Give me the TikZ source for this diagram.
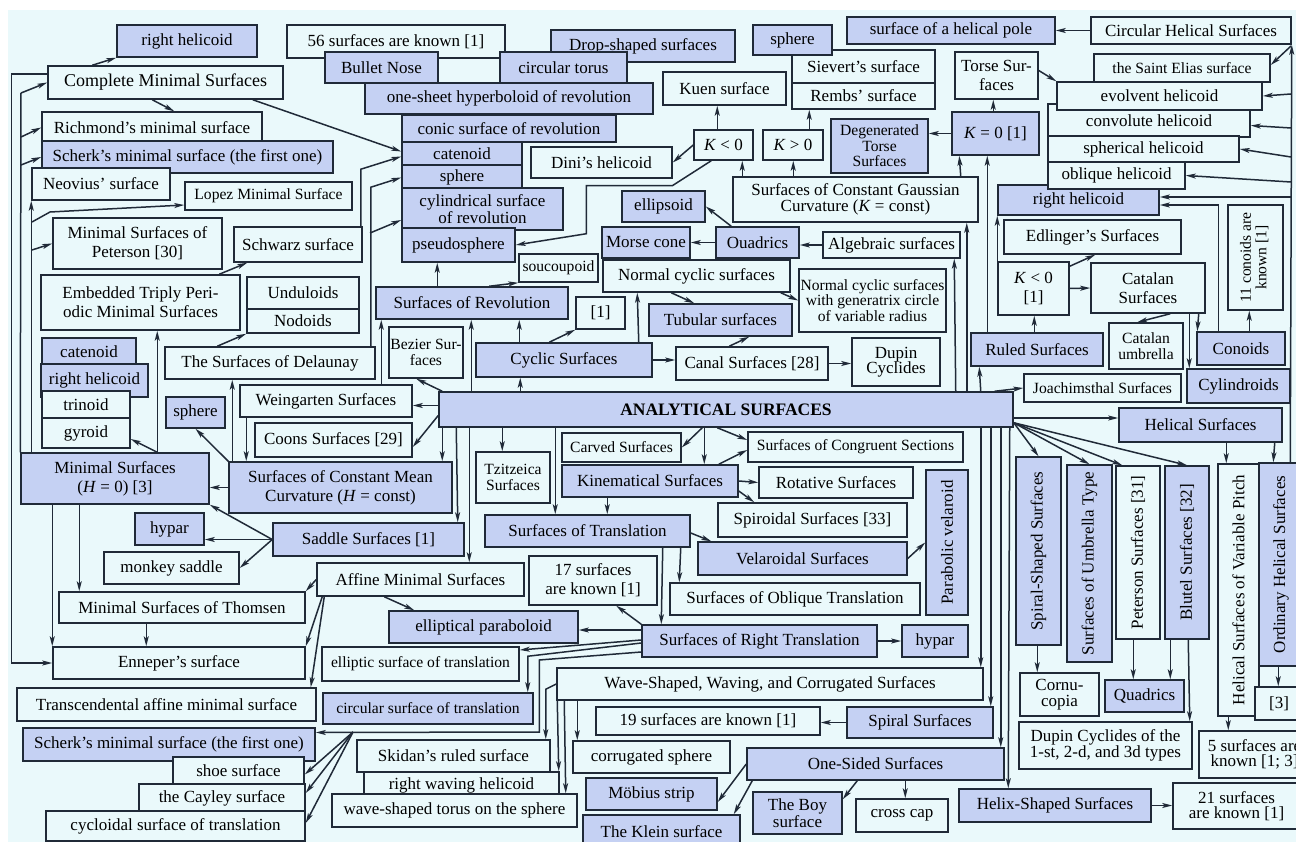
\documentclass[tikz,border=0pt]{standalone}
\usepackage{fontspec}
\setmainfont{Liberation Serif}
\usepackage{graphicx}
\usetikzlibrary{arrows.meta}

\definecolor{bgcol}{RGB}{234,249,251}
\definecolor{boxblue}{RGB}{197,209,243}
\definecolor{edgecol}{RGB}{32,42,56}

%% box from its corners (x1,y1)--(x2,y2), in pixels
\newcommand\bx[7]{\node[#1,minimum width={#5-#3},minimum height={#6-#4}] (#2) at ({(#3+#5)/2},{(#4+#6)/2}) {#7};}

\begin{document}
\begin{tikzpicture}%
        [x=1pt, y=-1pt,
        box/.style={draw=edgecol, line width=1.5pt, inner sep=1pt, align=center, font=\fontsize{17}{19}\selectfont},
        wb/.style={box, fill=bgcol},
        bb/.style={box, fill=boxblue},
        sm/.style={font=\fontsize{15.6}{15.4}\selectfont},
        tight/.style={font=\fontsize{17}{15.5}\selectfont},
        bold/.style={font=\fontsize{17.5}{19}\selectfont\bfseries},
        ln/.style={draw=edgecol, line width=1.5pt},
        arr/.style={ln, -{Stealth[length=10pt,width=5pt,inset=2.5pt]}}]
    %
    \useasboundingbox (0,0) rectangle (1296,842);
    \fill[white] (0,0) rectangle (1296,842);
    \fill[bgcol] (8,10) rectangle (1296,842);
    %
    %% Drawing the minimal surfaces (left)
    \bx{bb}{rhA}{117}{25}{257}{57}{right helicoid}
    \bx{wb}{cms}{48}{66}{283}{99}{\fontsize{18}{19}\selectfont Complete Minimal Surfaces}
    \bx{wb}{rich}{42}{112}{262}{143}{Richmond's minimal surface}
    \bx{bb}{scherkA}{42}{141}{333}{173}{Scherk's minimal surface (the first one)}
    \bx{wb}{neov}{32}{168}{170}{200}{Neovius' surface}
    \bx{wb,sm}{lopez}{185}{182}{352}{210}{Lopez Minimal Surface}
    \bx{wb}{peter}{53}{218}{222}{269}{Minimal Surfaces of\\Peterson [30]}
    \bx{wb}{schwarz}{234}{227}{362}{262}{Schwarz surface}
    \bx{wb}{embed}{41}{275}{240}{330}{Embedded Triply Peri-\\odic Minimal Surfaces}
    \bx{wb}{undul}{247}{277}{359}{309}{Unduloids}
    \bx{wb}{nodo}{247}{309}{359}{333}{Nodoids}
    \bx{wb}{delau}{165}{347}{375}{379}{The Surfaces of Delaunay}
    \bx{bb}{catA}{42}{338}{136}{365}{catenoid}
    \bx{bb}{rhB}{41}{364}{148}{397}{right helicoid}
    \bx{wb}{trin}{42}{391}{130}{418}{trinoid}
    \bx{wb}{gyr}{42}{418}{130}{448}{gyroid}
    \bx{bb}{sphA}{166}{397}{225}{428}{sphere}
    \bx{wb}{weing}{240}{385}{412}{417}{Weingarten Surfaces}
    \bx{wb}{coons}{255}{423}{412}{457}{Coons Surfaces [29]}
    \bx{bb}{minS}{21}{453}{209}{504}{Minimal Surfaces\\(\textit{H} = 0) [3]}
    \bx{bb}{scmc}{229}{462}{452}{513}{Surfaces of Constant Mean\\Curvature (\textit{H} = const)}
    \bx{bb}{hyA}{135}{513}{204}{545}{hypar}
    \bx{bb}{saddle}{273}{523}{464}{556}{Saddle Surfaces [1]}
    \bx{wb}{monkey}{104}{552}{239}{584}{monkey saddle}
    \bx{wb}{thom}{59}{592}{305}{623}{Minimal Surfaces of Thomsen}
    \bx{wb}{enne}{53}{647}{305}{679}{Enneper's surface}
    \bx{wb}{trans}{17}{688}{316}{721}{Transcendental affine minimal surface}
    \bx{bb}{scherkB}{23}{728}{315}{761}{Scherk's minimal surface (the first one)}
    \bx{wb}{shoe}{173}{757}{304}{784}{shoe surface}
    \bx{wb}{cayley}{139}{784}{305}{812}{the Cayley surface}
    \bx{wb}{cycl}{46}{811}{305}{841}{cycloidal surface of translation}
    %
    %% Drawing the surfaces of revolution and cyclic surfaces
    \bx{wb}{s56}{287}{25}{505}{58}{56 surfaces are known [1]}
    \bx{bb}{bullet}{325}{52}{438}{83}{Bullet Nose}
    \bx{bb}{drop}{551}{30}{735}{62}{Drop-shaped surfaces}
    \bx{bb}{torus}{500}{52}{627}{83}{circular torus}
    \bx{bb}{hyper}{365}{83}{653}{114}{one-sheet hyperboloid of revolution}
    \bx{bb}{conic}{402}{115}{616}{142}{conic surface of revolution}
    \bx{bb}{catB}{402}{142}{522}{165}{catenoid}
    \bx{bb}{sphB}{402}{165}{522}{190}{sphere}
    \bx{bb,tight}{cyl}{402}{188}{563}{230}{cylindrical surface\\of revolution}
    \bx{bb}{pseudo}{402}{228}{515}{262}{pseudosphere}
    \bx{wb}{dini}{531}{147}{672}{178}{Dini's helicoid}
    \bx{wb,sm}{souc}{519}{254}{598}{282}{soucoupoid}
    \bx{bb}{rev}{376}{287}{568}{319}{Surfaces of Revolution}
    \bx{wb,sm}{bez}{389}{327}{463}{378}{Bezier Sur-\\faces}
    \bx{wb}{one}{576}{297}{625}{329}{[1]}
    \bx{bb}{cyc}{476}{343}{652}{377}{Cyclic Surfaces}
    \bx{wb}{ncyc}{603}{260}{790}{292}{Normal cyclic surfaces}
    \bx{wb,sm}{ncycg}{799}{269}{946}{332}{Normal cyclic surfaces\\with generatrix circle\\of variable radius}
    \bx{bb}{tub}{649}{304}{792}{336}{Tubular surfaces}
    \bx{wb}{canal}{676}{347}{828}{380}{Canal Surfaces [28]}
    \bx{wb,tight}{dupin}{852}{338}{940}{386}{Dupin\\Cyclides}
    %
    %% Drawing the surfaces of constant Gaussian curvature
    \bx{wb}{siev}{792}{50}{935}{83}{Sievert's surface}
    \bx{wb}{rembs}{792}{83}{935}{109}{Rembs' surface}
    \bx{bb}{sphC}{753}{25}{832}{55}{sphere}
    \bx{wb}{kuen}{663}{72}{786}{105}{Kuen surface}
    \bx{wb}{kneg}{694}{130}{753}{160}{\textit{K} < 0}
    \bx{wb}{kpos}{763}{130}{823}{160}{\textit{K} > 0}
    \bx{bb,sm}{degen}{831}{119}{928}{173}{Degenerated\\Torse\\Surfaces}
    \bx{bb}{kzero}{952}{112}{1039}{155}{\textit{K} = 0 [1]}
    \bx{wb,tight}{scgc}{733}{177}{978}{222}{Surfaces of Constant Gaussian\\Curvature (\textit{K} = const)}
    \bx{bb}{ellip}{622}{191}{705}{222}{ellipsoid}
    \bx{bb}{quad}{716}{227}{799}{258}{Ouadrics}
    \bx{bb}{morse}{602}{227}{690}{258}{Morse cone}
    \bx{wb}{alg}{823}{232}{960}{258}{Algebraic surfaces}
    %
    %% Drawing the helicoids and ruled surfaces (upper right)
    \bx{bb}{pole}{847}{17}{1055}{44}{surface of a helical pole}
    \bx{wb}{circh}{1091}{17}{1291}{44}{Circular Helical Surfaces}
    \bx{wb}{torse}{955}{52}{1038}{99}{Torse Sur-\\faces}
    \bx{wb,sm}{elias}{1094}{54}{1270}{82}{the Saint Elias surface}
    \bx{bb}{rhC}{998}{185}{1159}{215}{right helicoid}
    \bx{wb}{conv}{1048}{104}{1250}{137}{convolute helicoid}
    \bx{wb}{evol}{1057}{82}{1262}{110}{evolvent helicoid}
    \bx{wb}{spher}{1048}{136}{1239}{162}{spherical helicoid}
    \bx{wb}{obl}{1048}{162}{1185}{189}{oblique helicoid}
    \bx{wb}{edl}{1004}{220}{1181}{254}{Edlinger's Surfaces}
    \bx{wb}{kneg1}{998}{262}{1069}{315}{\textit{K} < 0\\{[1]}}
    \bx{wb}{catal}{1091}{263}{1205}{313}{Catalan\\Surfaces}
    \bx{wb,sm}{con11}{1228}{205}{1283}{310}{\rotatebox{90}{\begin{tabular}{@{}c@{}}11 conoids are\\known [1]\end{tabular}}}
    \bx{bb}{ruled}{971}{333}{1103}{366}{Ruled Surfaces}
    \bx{wb,sm}{catum}{1109}{323}{1183}{369}{Catalan\\umbrella}
    \bx{bb}{conoids}{1197}{332}{1285}{365}{Conoids}
    \bx{bb}{cylin}{1187}{369}{1290}{403}{Cylindroids}
    \bx{wb,sm}{joach}{1024}{374}{1181}{402}{Joachimsthal Surfaces}
    \bx{bb}{helic}{1119}{408}{1282}{442}{Helical Surfaces}
    %
    %% Drawing the root and the lower middle
    \bx{bb,bold}{anal}{439}{392}{1013}{427}{ANALYTICAL SURFACES}
    \bx{wb,sm}{tzit}{476}{452}{550}{503}{Tzitzeica\\Surfaces}
    \bx{wb,sm}{carved}{562}{433}{681}{462}{Carved Surfaces}
    \bx{bb}{kine}{562}{465}{738}{497}{Kinematical Surfaces}
    \bx{wb,sm}{cong}{748}{432}{963}{462}{Surfaces of Congruent Sections}
    \bx{wb}{rot}{759}{467}{913}{498}{Rotative Surfaces}
    \bx{wb}{spir}{718}{503}{907}{537}{Spiroidal Surfaces [33]}
    \bx{bb}{transl}{485}{515}{690}{547}{Surfaces of Translation}
    \bx{bb}{vel}{698}{542}{907}{575}{Velaroidal Surfaces}
    \bx{bb}{parab}{926}{470}{968}{615}{\rotatebox{90}{Parabolic velaroid}}
    \bx{wb}{affine}{317}{563}{524}{596}{Affine Minimal Surfaces}
    \bx{wb}{s17}{529}{556}{657}{605}{17 surfaces\\are known [1]}
    \bx{wb}{obliq}{670}{583}{920}{615}{Surfaces of Oblique Translation}
    \bx{bb}{ellpar}{389}{611}{578}{643}{elliptical paraboloid}
    \bx{bb}{right}{642}{625}{877}{657}{Surfaces of Right Translation}
    \bx{bb}{hyB}{902}{625}{968}{657}{hypar}
    \bx{wb,sm}{ellst}{322}{647}{519}{681}{elliptic surface of translation}
    \bx{bb,sm}{circst}{323}{693}{533}{724}{circular surface of translation}
    \bx{wb}{wave}{557}{668}{983}{700}{Wave-Shaped, Waving, and Corrugated Surfaces}
    \bx{wb}{s19}{596}{707}{820}{735}{19 surfaces are known [1]}
    \bx{bb}{spiral}{847}{707}{993}{738}{Spiral Surfaces}
    \bx{wb}{skid}{357}{740}{550}{772}{Skidan's ruled surface}
    \bx{wb}{rwh}{364}{772}{559}{799}{right waving helicoid}
    \bx{wb}{wst}{332}{794}{577}{827}{wave-shaped torus on the sphere}
    \bx{wb}{corr}{573}{741}{730}{773}{corrugated sphere}
    \bx{bb}{mob}{586}{778}{717}{810}{Möbius strip}
    \bx{bb}{klein}{583}{815}{740}{848}{The Klein surface}
    \bx{bb}{onesided}{747}{748}{1004}{780}{One-Sided Surfaces}
    \bx{bb,tight}{boy}{753}{792}{842}{834}{The Boy\\surface}
    \bx{wb}{crossc}{856}{799}{948}{832}{cross cap}
    \bx{bb}{helix}{959}{789}{1151}{822}{Helix-Shaped Surfaces}
    \bx{wb,tight}{s21}{1173}{783}{1300}{829}{21 surfaces\\are known [1]}
    %
    %% Drawing the vertical boxes (lower right)
    \bx{bb}{spsh}{1016}{457}{1061}{645}{\rotatebox{90}{Spiral-Shaped Surfaces}}
    \bx{bb}{umb}{1067}{465}{1112}{662}{\rotatebox{90}{Surfaces of Umbrella Type}}
    \bx{wb}{pet31}{1116}{466}{1160}{639}{\rotatebox{90}{Peterson Surfaces [31]}}
    \bx{bb}{blut}{1165}{466}{1209}{639}{\rotatebox{90}{Blutel Surfaces [32]}}
    \bx{wb}{hvp}{1218}{464}{1259}{716}{\rotatebox{90}{Helical Surfaces of Variable Pitch}}
    \bx{bb}{ordh}{1259}{463}{1303}{666}{\rotatebox{90}{Ordinary Helical Surfaces}}
    \bx{wb}{three}{1255}{687}{1303}{720}{[3]}
    \bx{wb,tight}{cornu}{1020}{673}{1099}{716}{Cornu-\\copia}
    \bx{bb}{quadB}{1105}{680}{1184}{712}{Quadrics}
    \bx{wb,tight}{dupinB}{1019}{722}{1192}{769}{Dupin Cyclides of the\\1-st, 2-d, and 3d types}
    \bx{wb,tight}{s5}{1199}{731}{1310}{778}{5 surfaces are\\known [1; 3]}
    %
    %% Junctions on the long lines
    \coordinate (t21a) at (21,93);
    \coordinate (t21b) at (21,137);
    \coordinate (t21c) at (21,165);
    \coordinate (t32a) at (32,222);
    \coordinate (t32b) at (32,250);
    \coordinate (t370) at (370,233);
    \coordinate (sc) at (353,732);
    \coordinate (h1) at (1291,46);
    \coordinate (h2) at (1291,94);
    \coordinate (h3) at (1291,128);
    \coordinate (h4) at (1291,157);
    \coordinate (h5) at (1291,182);
    \coordinate (h6) at (1291,197);
    %
    %% Connectors: minimal surfaces
    \draw[arr] ([xshift=45pt]cms.north west) -- (rhA.south west);
    \draw[arr] ([xshift=105pt]cms.south west) -- ([xshift=133pt]rich.north west);
    \draw[arr] ([xshift=-31pt]cms.south east) -- ([yshift=2pt]catB.west);
    \draw[arr] ([yshift=-9pt]cms.north west) -- ++(-36,0) |- (enne.west);
    \draw[ln] (minS.north west) -- (t21a);
    \draw[arr] (t21a) -- (cms.west);
    \draw[arr] (t21b) -- (rich.west);
    \draw[arr] (t21c) -- (scherkA.west);
    \draw[arr] ([xshift=11pt]minS.north west) -- (neov.south west);
    \draw[arr] (t32a) -- ++(18,-10) -- ([yshift=-9pt]lopez.west);
    \draw[arr] (t32b) -- (peter.west);
    \draw[arr] ([xshift=137pt]minS.north west) -- ([yshift=-6pt]gyr.east);
    \draw[arr] ([xshift=137pt]minS.north west) -- ([xshift=117pt]embed.south west);
    \draw[arr] ([xshift=59pt]minS.south west) -- ([xshift=21pt]thom.north west);
    \draw[arr] ([xshift=32pt]minS.south west) -- (enne.north west);
    \draw[arr] ([xshift=88pt]thom.south west) -- ([xshift=94pt]enne.north west);
    \draw[arr] ([xshift=179pt]embed.north west) -- ([xshift=14pt]schwarz.south west);
    \draw[arr] (scmc.north west) -- (sphA.south);
    \draw[arr] ([xshift=4pt]scmc.north west) -- ([xshift=68pt]delau.south west);
    \draw[arr] ([xshift=7pt]weing.south west) -- ([xshift=18pt]scmc.north west);
    \draw[arr] (scmc.west) -- (scmc.west -| minS.east);
    \draw[arr] (saddle.west) -- (saddle.west -| hyA.east);
    \draw[arr] (saddle.west) -- (minS.south east);
    \draw[arr] (saddle.west) -- (monkey.east);
    \draw[arr] ([xshift=53pt]delau.north west) -- (nodo.south west);
    \draw[arr] ([xshift=-2pt]schwarz.north east) -- ++(0,-57) -- ([yshift=-3pt]catB.west);
    \draw[arr] ([xshift=-5pt]delau.north east) -- ++(0,-159) -- (sphB.west);
    \draw[arr] (t370) -- ([yshift=-11pt]cyl.west);
    \draw[arr] ([xshift=142pt]weing.north west) -- ([xshift=6pt]rev.south west);
    %
    %% Connectors: around the root
    \draw[arr] ([yshift=4pt]anal.west) -- ([yshift=4pt]anal.west -| weing.east);
    \draw[arr] ([yshift=-6pt]anal.west) -- ([yshift=-7pt]coons.east);
    \draw[arr] ([xshift=4pt]anal.north west) -- ([xshift=28pt]bez.south west);
    \draw[arr] ([xshift=33pt]anal.north west) -- ([xshift=96pt]rev.south west);
    \draw[arr] ([xshift=82pt]anal.north west) -- ([xshift=45pt]cyc.south west);
    \draw[arr] ([xshift=44pt]cyc.north west) -- ([xshift=144pt]rev.south west);
    \draw[arr] ([xshift=74pt]cyc.north west) -- (one.south west);
    \draw[arr] ([xshift=-14pt]cyc.north east) -- ([xshift=35pt]ncyc.south west);
    \draw[arr] ([xshift=62pt]rev.north west) -- ([xshift=36pt]pseudo.south west);
    \draw[arr] ([xshift=114pt]rev.north west) -- (souc.south west);
    \draw[arr] ([xshift=18pt]kneg.south west) -- ++(-39,25) -- ++(-86,0) -- ++(0,48) -- (pseudo.east);
    \draw[arr] (kneg.west) -- (dini.east);
    \draw[arr] ([xshift=24pt]kneg.north west) -- ([xshift=55pt]kuen.south west);
    \draw[arr] ([xshift=47pt]kpos.north west) -- ([xshift=18pt]rembs.south west);
    \draw[arr] ([xshift=10pt]scgc.north west) -- ([xshift=49pt]kneg.south west);
    \draw[arr] ([xshift=61pt]scgc.north west) -- ([xshift=31pt]kpos.south west);
    \draw[arr] ([xshift=-18pt]scgc.north east) -- ([xshift=8pt]kzero.south west);
    \draw[arr] (kzero.west) -- (kzero.west -| degen.east);
    \draw[arr] ([xshift=42pt]kzero.north west) -- ([xshift=39pt]torse.south west);
    \draw[arr] (alg.west) -- (alg.west -| quad.east);
    \draw[arr] (quad.west) -- (quad.west -| morse.east);
    \draw[arr] ([xshift=16pt]quad.north west) -- (ellip.east);
    \draw[arr] ([xshift=-58pt]anal.north east) -- ([xshift=132pt]alg.south west);
    \draw[arr] ([xshift=-47pt]anal.north east) -- ([xshift=-12pt]scgc.south east);
    \draw[arr] ([xshift=69pt]ncyc.south west) -- ([xshift=46pt]tub.north west);
    \draw[arr] ([xshift=-10pt]ncyc.south east) -- (ncycg.west);
    \draw[arr] (cyc.east) -- (cyc.east -| canal.west);
    \draw[arr] ([xshift=54pt]canal.north west) -- ([xshift=101pt]tub.south west);
    \draw[arr] (canal.east) -- (canal.east -| dupin.west);
    %
    %% Connectors: helicoids and ruled surfaces
    \draw[arr] (circh.west) -- (pole.east);
    \draw[arr] ([xshift=32pt]ordh.north west) -- (circh.south east);
    \draw[arr] (h1) -- ([yshift=3pt]elias.east);
    \draw[arr] (h2) -- (evol.east);
    \draw[arr] (h3) -- ([yshift=-5pt]conv.east);
    \draw[arr] (h4) -- (spher.east);
    \draw[arr] (h5) -- (obl.east);
    \draw[arr] (h6) -- ([yshift=3pt]rhC.east);
    \draw[arr] ([xshift=22pt]conoids.north west) |- ([yshift=-5pt]rhC.east);
    \draw[arr] ([yshift=5pt]torse.east) -- (evol.north west);
    \draw[arr] ([xshift=17pt]ruled.north west) -- ([xshift=36pt]kzero.south west);
    \draw[arr] (kneg1.north west) -- (rhC.south west);
    \draw[arr] ([xshift=64pt]ruled.north west) -- ([xshift=37pt]kneg1.south west);
    \draw[arr] ([yshift=-5pt]kneg1.north east) -- ([xshift=92pt]edl.south west);
    \draw[arr] (kneg1.east) -- (catal.west);
    \draw[arr] ([xshift=80pt]catal.south west) -- ([xshift=29pt]catum.north west);
    \draw[arr] ([xshift=99pt]catal.south west) -- ([xshift=3pt]cylin.north west);
    \draw[arr] ([xshift=-7pt]catal.south east) -- ([xshift=1pt]conoids.north west);
    \draw[arr] ([xshift=53pt]conoids.north west) -- ([xshift=22pt]con11.south west);
    \draw[arr] ([xshift=-33pt]anal.north east) -- ([xshift=9pt]ruled.south west);
    \draw[arr] ([xshift=-19pt]anal.north east) -- (joach.west);
    \draw[arr] ([yshift=-8.5pt]anal.east) -- ([yshift=-8.5pt]anal.east -| helic.west);
    %
    %% Connectors: lower right
    \draw[arr] ([yshift=5pt]anal.south east) -- (spsh.north);
    \draw[arr] ([yshift=5pt]anal.south east) -- (umb.north);
    \draw[arr] ([yshift=5pt]anal.south east) -- ([xshift=7pt]pet31.north west);
    \draw[arr] ([yshift=5pt]anal.south east) -- (blut.north);
    \draw[arr] ([xshift=-33pt]anal.south east) -- ([xshift=-3pt]wave.north east);
    \draw[arr] ([xshift=-23pt]anal.south east) -- ([xshift=-3pt]spiral.north east);
    \draw[arr] ([xshift=-13pt]anal.south east) -- ([xshift=-4pt]onesided.north east);
    \draw[arr] ([xshift=-4pt]anal.south east) -- ([xshift=50pt]helix.north west);
    \draw[arr] ([xshift=108pt]helic.south west) -- ([xshift=9pt]hvp.north west);
    \draw[arr] ([xshift=-8pt]helic.south east) -- ([xshift=15pt]ordh.north west);
    \draw[arr] ([xshift=22pt]spsh.south west) -- ([xshift=18pt]cornu.north west);
    \draw[arr] ([xshift=18pt]pet31.south west) -- ([xshift=29pt]quadB.north west);
    \draw[arr] ([xshift=6pt]blut.south west) -- ([xshift=66pt]quadB.north west);
    \draw[arr] ([xshift=24pt]blut.south west) -- ([xshift=-3pt]dupinB.north east);
    \draw[arr] ([xshift=11pt]hvp.south west) -- ([xshift=30pt]s5.north west);
    \draw[arr] ([xshift=20pt]ordh.south west) -- ([xshift=24pt]three.north west);
    \draw[arr] (helix.east) -- (helix.east -| s21.west);
    %
    %% Connectors: lower middle
    \draw[arr] ([xshift=64pt]anal.south west) -- ([xshift=27pt]tzit.north west);
    \draw[arr] ([xshift=117pt]anal.south west) -- ([xshift=71pt]transl.north west);
    \draw[arr] ([xshift=264pt]anal.south west) -- (carved.east);
    \draw[arr] ([xshift=266pt]anal.south west) -- ([xshift=143pt]kine.north west);
    \draw[arr] ([xshift=279pt]anal.south west) -- ([yshift=7pt]cong.west);
    \draw[arr] ([xshift=-20pt]kine.north east) -- ([yshift=-3pt]cong.west);
    \draw[arr] (kine.east) -- (rot.west);
    \draw[arr] ([yshift=-10pt]kine.east) -- ([xshift=37pt]spir.north west);
    \draw[arr] ([xshift=46pt]kine.south west) -- ([xshift=123pt]transl.north west);
    \draw[arr] ([yshift=-2pt]transl.east) -- ([xshift=14pt]vel.north west);
    \draw[arr] ([xshift=-10pt]transl.south east) -- ([xshift=10pt]obliq.north west);
    \draw[arr] ([xshift=-28pt]transl.south east) -- ([xshift=20pt]right.north west);
    \draw[arr] (vel.east) -- (parab.west);
    \draw[arr] (right.east) -- (right.east -| hyB.west);
    \draw[arr] (right.north west) -- ([xshift=88pt]s17.south west);
    \draw[arr] ([yshift=11pt]right.west) -- ([yshift=11pt]right.west -| ellpar.east);
    \draw[arr] ([yshift=1pt]right.west) -- ([yshift=14pt]ellst.east);
    \draw[arr] ([yshift=-2pt]right.west) -- ([xshift=-6pt,yshift=36pt]circst.north east) -- ([xshift=-6pt]circst.north east);
    \draw[arr] ([yshift=-11pt]right.west) -- ++(-102,8) -- ++(0,72) -- ([yshift=12pt]scherkB.east);
    \draw[arr] (sc) -- ([yshift=-4pt]shoe.east);
    \draw[arr] (sc) -- ([yshift=5pt]cayley.east);
    \draw[arr] (sc) -- ([yshift=3pt]cycl.east);
    \draw[arr] ([xshift=68pt]affine.south west) -- ([xshift=26pt]ellpar.north west);
    \draw[arr] (affine.west) -- (thom.north east);
    \draw[arr] ([xshift=6pt]affine.south west) -- (enne.north east);
    \draw[arr] ([xshift=8pt]affine.south west) -- ([xshift=-6pt]trans.north east);
    \draw[arr] ([xshift=4pt]anal.south west) -- ([xshift=214pt]scmc.north west);
    \draw[arr] ([xshift=18pt]anal.south west) -- ([xshift=-7pt]saddle.north east);
    \draw[arr] ([xshift=31pt]anal.south west) -- ([xshift=153pt]affine.north west);
    \draw[arr] (wave.west) -- ([xshift=-5pt,yshift=50pt]skid.north east) -- ([xshift=-5pt]skid.north east);
    \draw[arr] ([xshift=1pt]wave.south west) -- ([xshift=-1pt]rwh.north east);
    \draw[arr] ([xshift=8pt]wave.south west) -- ([xshift=-12pt]wst.north east);
    \draw[arr] ([xshift=21pt]wave.south west) -- ([xshift=5pt]corr.north west);
    \draw[arr] (spiral.west) -- (spiral.west -| s19.east);
    \draw[arr] (onesided.west) -- ([yshift=-8pt]mob.east);
    \draw[arr] ([xshift=6pt]onesided.south west) -- ([xshift=-7pt]klein.north east);
    \draw[arr] ([xshift=111pt]onesided.south west) -- ([yshift=-8pt]boy.north east);
    \draw[arr] ([xshift=159pt]onesided.south west) -- ([xshift=50pt]crossc.north west);
    %%
\end{tikzpicture}
\end{document}
